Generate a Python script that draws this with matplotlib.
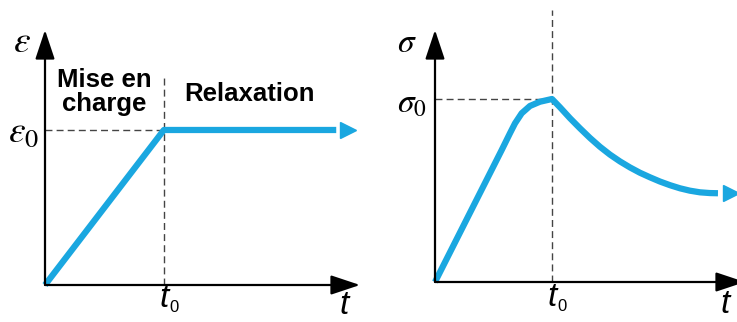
import matplotlib
matplotlib.use("Agg")
import matplotlib.pyplot as plt

plt.rcParams['mathtext.fontset'] = 'stix'

# strain history (left): loading up to t0, then held constant
t_strain = [0, 1, 2.45]
strain = [0, 1, 1]

# stress response (right): rise, peak at t0, relaxation
t_stress = [0, 0.498, 0.570, 0.641, 0.684, 0.741, 0.812, 0.897, 1.0,
            1.068, 1.154, 1.239, 1.325, 1.410, 1.496, 1.581, 1.667, 1.752,
            1.838, 1.923, 2.009, 2.094, 2.179, 2.265, 2.350, 2.419]
stress = [0, 0.630, 0.721, 0.813, 0.867, 0.922, 0.962, 0.985, 1.0,
          0.955, 0.895, 0.840, 0.787, 0.739, 0.696, 0.659, 0.626, 0.597,
          0.572, 0.549, 0.529, 0.512, 0.499, 0.490, 0.486, 0.485]

t0 = 1.0
blue = '#1aa7e0'
dash_col = '#444444'

fig = plt.figure(figsize=(7.37, 3.22), dpi=100)
ax1 = fig.add_axes([45 / 737, 37 / 322, 315 / 737, 255 / 322])
ax2 = fig.add_axes([435 / 737, 40 / 322, 310 / 737, 252 / 322])


def setup(ax, xmax, ymax):
    ax.set_xlim(0, xmax)
    ax.set_ylim(0, ymax)
    ax.set_axis_off()
    arrow = dict(arrowstyle='-|>,head_length=0.9,head_width=0.3',
                 color='black', lw=1.6, mutation_scale=20, shrinkA=0, shrinkB=0)
    ax.annotate('', xy=(0, 1), xytext=(0, 0), xycoords='axes fraction',
                arrowprops=arrow, annotation_clip=False)
    ax.annotate('', xy=(1, 0), xytext=(0, 0), xycoords='axes fraction',
                arrowprops=arrow, annotation_clip=False)


def t_labels(ax, x_end, y_t, y_t0, dy):
    ax.text(x_end, y_t, 't', fontsize=24, style='italic', family='Liberation Sans',
            ha='center', va='center', clip_on=False)
    ax.text(t0, y_t0, 't', fontsize=24, style='italic', family='Liberation Sans',
            ha='center', va='center', clip_on=False)
    ax.text(t0 + 0.085, y_t0 - dy, '0', fontsize=12, family='Liberation Sans',
            ha='center', va='center', clip_on=False)


# left panel
setup(ax1, 2.65, 1.645)
ax1.plot([0, t0], [1, 1], ls=(0, (5, 3)), color=dash_col, lw=1)
ax1.plot([t0, t0], [0, 1.355], ls=(0, (5, 3)), color=dash_col, lw=1, clip_on=False)
ax1.plot(t_strain, strain, color=blue, lw=4.5, solid_capstyle='butt', clip_on=False)
ax1.plot([t_strain[-1] + 0.1], [strain[-1]], marker='>', color=blue, ms=12, clip_on=False)
ax1.text(-0.19, 1.57, r'$\varepsilon$', fontsize=27, ha='center', va='center', clip_on=False)
ax1.text(-0.05, 0.99, r'$\varepsilon_0$', fontsize=27, ha='right', va='center', clip_on=False)
ax1.text(0.5, 1.245, 'Mise en\ncharge', fontsize=18.5, fontweight='bold',
         family='Liberation Sans', ha='center', va='center', linespacing=1.0)
ax1.text(1.17, 1.23, 'Relaxation', fontsize=18.5, fontweight='bold',
         family='Liberation Sans', ha='left', va='center')
t_labels(ax1, 2.52, -0.13, -0.085, 0.06)

# right panel
setup(ax2, 2.65, 1.377)
ax2.plot([0, t0], [1, 1], ls=(0, (5, 3)), color=dash_col, lw=1)
ax2.plot([t0, t0], [0, 1.486], ls=(0, (5, 3)), color=dash_col, lw=1, clip_on=False)
ax2.plot(t_stress, stress, color=blue, lw=4.5, solid_capstyle='butt',
         solid_joinstyle='round', clip_on=False)
ax2.plot([t_stress[-1] + 0.11], [stress[-1]], marker='>', color=blue, ms=12,
         clip_on=False)
ax2.text(-0.24, 1.306, r'$\sigma$', fontsize=24, ha='center', va='center', clip_on=False)
ax2.text(-0.07, 0.98, r'$\sigma_0$', fontsize=24, ha='right', va='center', clip_on=False)
t_labels(ax2, 2.48, -0.125, -0.085, 0.05)

fig.savefig('out.png', dpi=100)
